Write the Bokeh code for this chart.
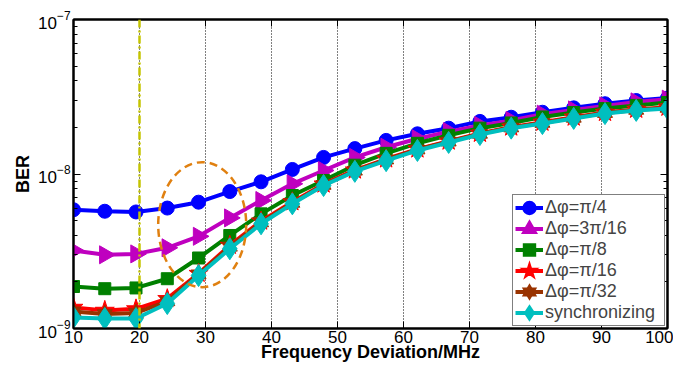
import numpy as np
from bokeh.plotting import figure
from bokeh.models import (Range1d, FixedTicker, LinearAxis, LogAxis, Span, Legend, LegendItem,
                          CustomJSTickFormatter, ColumnDataSource)
from bokeh.embed import file_html
from bokeh.resources import INLINE

# ---------------- data ----------------
freq = [10.0, 14.74, 19.47, 24.21, 28.95, 33.68, 38.42, 43.16, 47.89, 52.63,
        57.37, 62.11, 66.84, 71.58, 76.32, 81.05, 85.79, 90.53, 95.26, 100.0]

ber_pi4 = [5.87e-9, 5.74e-9, 5.68e-9, 6.02e-9, 6.57e-9, 7.7e-9, 8.9e-9, 1.07e-8, 1.28e-8, 1.46e-8,
           1.65e-8, 1.82e-8, 1.98e-8, 2.19e-8, 2.33e-8, 2.51e-8, 2.68e-8, 2.85e-8, 2.99e-8, 3.1e-8]
ber_3pi16 = [3.2e-9, 3.0e-9, 3.04e-9, 3.33e-9, 3.95e-9, 5.2e-9, 6.74e-9, 8.64e-9, 1.054e-8, 1.28e-8,
             1.49e-8, 1.69e-8, 1.88e-8, 2.06e-8, 2.22e-8, 2.44e-8, 2.6e-8, 2.76e-8, 2.93e-8, 3.05e-8]
ber_pi8 = [1.87e-9, 1.81e-9, 1.83e-9, 2.1e-9, 2.86e-9, 4.0e-9, 5.52e-9, 7.26e-9, 9.08e-9, 1.14e-8,
           1.36e-8, 1.58e-8, 1.78e-8, 1.98e-8, 2.14e-8, 2.34e-8, 2.5e-8, 2.65e-8, 2.78e-8, 2.9e-8]
ber_pi16 = [1.37e-9, 1.31e-9, 1.34e-9, 1.56e-9, 2.27e-9, 3.45e-9, 4.95e-9, 6.6e-9, 8.6e-9, 1.06e-8,
            1.25e-8, 1.45e-8, 1.63e-8, 1.83e-8, 2.01e-8, 2.16e-8, 2.33e-8, 2.5e-8, 2.62e-8, 2.7e-8]
ber_pi32 = [1.29e-9, 1.24e-9, 1.26e-9, 1.5e-9, 2.24e-9, 3.38e-9, 4.86e-9, 6.5e-9, 8.5e-9, 1.05e-8,
            1.24e-8, 1.44e-8, 1.62e-8, 1.82e-8, 2.0e-8, 2.14e-8, 2.31e-8, 2.48e-8, 2.6e-8, 2.68e-8]
ber_sync = [1.18e-9, 1.16e-9, 1.16e-9, 1.45e-9, 2.2e-9, 3.28e-9, 4.76e-9, 6.41e-9, 8.42e-9, 1.04e-8,
            1.22e-8, 1.42e-8, 1.6e-8, 1.8e-8, 1.98e-8, 2.12e-8, 2.29e-8, 2.46e-8, 2.58e-8, 2.65e-8]

series_labels = ["Δφ=π/4", "Δφ=3π/16", "Δφ=π/8", "Δφ=π/16", "Δφ=π/32", "synchronizing"]

x_ticks = [10, 20, 30, 40, 50, 60, 70, 80, 90, 100]
y_ticks = [1e-9, 1e-8, 1e-7]
y_minor = [2e-9, 3e-9, 4e-9, 5e-9, 6e-9, 7e-9, 8e-9, 9e-9,
           2e-8, 3e-8, 4e-8, 5e-8, 6e-8, 7e-8, 8e-8, 9e-8]

marker_line_x = 20
ellipse_x = 29.5
ellipse_y = 4.7e-9

# ---------------- figure ----------------
FONT = "Liberation Sans"
p = figure(width=673, height=366, x_range=Range1d(10, 100), y_range=Range1d(1e-9, 1e-7),
           y_axis_type="log", output_backend="svg", toolbar_location=None,
           min_border_left=73, min_border_right=6, min_border_top=19, min_border_bottom=38)
p.outline_line_color = "black"
p.outline_line_width = 2
p.background_fill_color = "white"
p.border_fill_color = "white"
# range used only so that legend-swatch renderers stay off the canvas
p.extra_y_ranges = {"swatch": Range1d(1, 10)}

xt = FixedTicker(ticks=x_ticks, minor_ticks=[])
yt = FixedTicker(ticks=y_ticks, minor_ticks=y_minor)

p.xaxis.ticker = xt
p.yaxis.ticker = yt
p.xgrid.ticker = xt
p.xgrid.grid_line_color = "black"
p.xgrid.grid_line_dash = "1 2"
p.xgrid.grid_line_width = 1
p.ygrid.grid_line_color = None

for ax in (p.xaxis[0], p.yaxis[0]):
    ax.axis_line_width = 2
    ax.axis_line_color = "black"
    ax.major_tick_in = 7
    ax.major_tick_out = 0
    ax.minor_tick_in = 4
    ax.minor_tick_out = 0
    ax.major_tick_line_color = "black"
    ax.minor_tick_line_color = "black"
    ax.major_tick_line_width = 1
    ax.minor_tick_line_width = 1
    ax.major_label_text_font = FONT
    ax.major_label_text_font_size = "17px"
    ax.major_label_text_color = "black"
    ax.axis_label_text_font = FONT
    ax.axis_label_text_font_size = "18px"
    ax.axis_label_text_font_style = "bold"
    ax.axis_label_text_color = "black"

p.xaxis.axis_label = "Frequency Deviation/MHz"
p.yaxis.axis_label = "BER"
p.xaxis.major_label_standoff = 2
p.xaxis.axis_label_standoff = -4
p.yaxis.major_label_standoff = 3
p.yaxis.axis_label_standoff = 2

top_ax = LinearAxis(ticker=xt, formatter=CustomJSTickFormatter(code="return ''"),
                    major_tick_in=7, major_tick_out=0, minor_tick_in=0, minor_tick_out=0,
                    axis_line_width=2, major_label_standoff=0,
                    major_label_text_font_size="0px", axis_label_standoff=0)
right_ax = LogAxis(ticker=yt, formatter=CustomJSTickFormatter(code="return ''"),
                   major_tick_in=7, major_tick_out=0, minor_tick_in=4, minor_tick_out=0,
                   axis_line_width=2, major_label_standoff=0,
                   major_label_text_font_size="0px", axis_label_standoff=0)
p.add_layout(top_ax, "above")
p.add_layout(right_ax, "right")

# ---------------- series ----------------
colors = ["#0000ff", "#bf00bf", "#008000", "#ff0000", "#993300", "#00bfbf"]
series = [ber_pi4, ber_3pi16, ber_pi8, ber_pi16, ber_pi32, ber_sync]
# (marker, plot size, angle) per series; brown uses two overlaid triangles as a hexagram
marker_specs = [
    [("circle", 14, 0.0)],
    [("triangle", 18, -np.pi / 2)],
    [("square", 12, 0.0)],
    [("star", 20, 0.0)],
    [("triangle", 15, 0.0), ("inverted_triangle", 15, 0.0)],
    [("diamond", 22, 0.0)],
]
swatch_lw = [6, 5, 5, 4, 4, 5]

items = []
for vals, col, lab, specs, slw in zip(series, colors, series_labels, marker_specs, swatch_lw):
    src = ColumnDataSource(dict(x=freq, y=vals))
    ln = p.line("x", "y", source=src, line_color=col, line_width=4, line_join="round")
    rs = [ln]
    for mk, sz, ang in specs:
        p.scatter("x", "y", source=src, marker=mk, size=sz, angle=ang,
                  fill_color=col, line_color=col)
        # legend swatch renderer (thick outline to enlarge the legend marker)
        rs.append(p.scatter("x", "y", source=src, y_range_name="swatch", marker=mk, size=8,
                            fill_color=col, line_color=col, line_width=slw,
                            line_join="round" if mk == "circle" else "miter"))
    items.append(LegendItem(label=lab, renderers=rs))

# annotations
p.add_layout(Span(location=marker_line_x, dimension="height", line_color="#c4c400",
                  line_width=2.5, line_dash="8 3 2 3"))
p.ellipse(x=[ellipse_x], y=[ellipse_y], width=88, height=125, width_units="screen",
          height_units="screen", fill_color=None, line_color="#e08010", line_width=2.5,
          line_dash="8 5")

legend = Legend(items=items, location="bottom_right", label_text_font=FONT,
                label_text_font_size="18px", label_height=21, glyph_height=21, glyph_width=28,
                label_standoff=2, padding=2, spacing=0, margin=2, label_width=117,
                border_line_color="black", border_line_width=1.5, background_fill_alpha=1)
p.add_layout(legend)

open("out.html", "w").write(file_html(p, INLINE))
